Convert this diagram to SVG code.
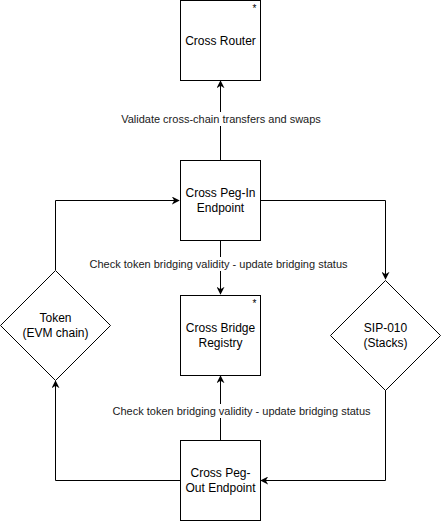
<svg xmlns="http://www.w3.org/2000/svg" width="441" height="521" viewBox="0 0 441 521">
<defs>
<marker id="arr" viewBox="0 0 10 10" refX="9" refY="5" markerWidth="8" markerHeight="8" markerUnits="userSpaceOnUse" orient="auto">
<path d="M0,0 L10,5 L0,10 L3,5 Z" fill="#000"/>
</marker>
<style>
.box{fill:#fff;stroke:#000;stroke-width:1}
.lbl{font-family:"Liberation Sans",Arial,sans-serif;font-size:12px;fill:#000;text-anchor:middle}
.elbl{font-family:"Liberation Sans",Arial,sans-serif;font-size:11px;fill:#1a1a1a;text-anchor:middle}
.star{font-family:"Liberation Sans",Arial,sans-serif;font-size:10px;fill:#000;text-anchor:middle}
.edge{fill:none;stroke:#000;stroke-width:1;marker-end:url(#arr)}
.bg{fill:#fff}
</style>
</defs>
<rect width="441" height="521" fill="#fff"/>
<g id="connectors">
<path class="edge" d="M220.5,160 L220.5,81"/>
<path class="edge" d="M220.5,240 L220.5,294"/>
<path class="edge" d="M220.5,440 L220.5,376"/>
<path class="edge" d="M55.5,270 L55.5,200.5 L179,200.5"/>
<path class="edge" d="M260,200.5 L385.5,200.5 L385.5,279"/>
<path class="edge" d="M385.5,390 L385.5,480.5 L261,480.5"/>
<path class="edge" d="M180,480.5 L55.5,480.5 L55.5,381"/>
<rect class="bg" x="120" y="112" width="202" height="14"/>
<text class="elbl" x="221" y="123">Validate cross-chain transfers and swaps</text>
<rect class="bg" x="89" y="257" width="260" height="14"/>
<text class="elbl" x="218.5" y="268">Check token bridging validity - update bridging status</text>
<rect class="bg" x="111" y="404" width="261" height="14"/>
<text class="elbl" x="241.5" y="415">Check token bridging validity - update bridging status</text>
</g>
<g id="cross-router">
<rect class="box" x="180.5" y="0.5" width="80" height="80"/>
<text class="lbl" x="220.5" y="44.5">Cross Router</text>
<text class="star" x="254.5" y="12">*</text>
</g>
<g id="cross-peg-in">
<rect class="box" x="180.5" y="160.5" width="80" height="80"/>
<text class="lbl" x="220.5" y="197">Cross Peg-In</text>
<text class="lbl" x="220.5" y="212">Endpoint</text>
</g>
<g id="cross-bridge-registry">
<rect class="box" x="180.5" y="295.5" width="80" height="80"/>
<text class="lbl" x="220.5" y="332">Cross Bridge</text>
<text class="lbl" x="220.5" y="347">Registry</text>
<text class="star" x="254.5" y="307">*</text>
</g>
<g id="cross-peg-out">
<rect class="box" x="180.5" y="440.5" width="80" height="80"/>
<text class="lbl" x="220.5" y="477">Cross Peg-</text>
<text class="lbl" x="220.5" y="492">Out Endpoint</text>
</g>
<g id="token-evm">
<path class="box" d="M55.5,270.5 L110.5,325.5 L55.5,380.5 L0.5,325.5 Z"/>
<text class="lbl" x="55.5" y="322">Token</text>
<text class="lbl" x="55.5" y="337">(EVM chain)</text>
</g>
<g id="sip-010">
<path class="box" d="M385.5,280.5 L440.5,335.5 L385.5,390.5 L330.5,335.5 Z"/>
<text class="lbl" x="385.5" y="332">SIP-010</text>
<text class="lbl" x="385.5" y="347">(Stacks)</text>
</g>
</svg>
